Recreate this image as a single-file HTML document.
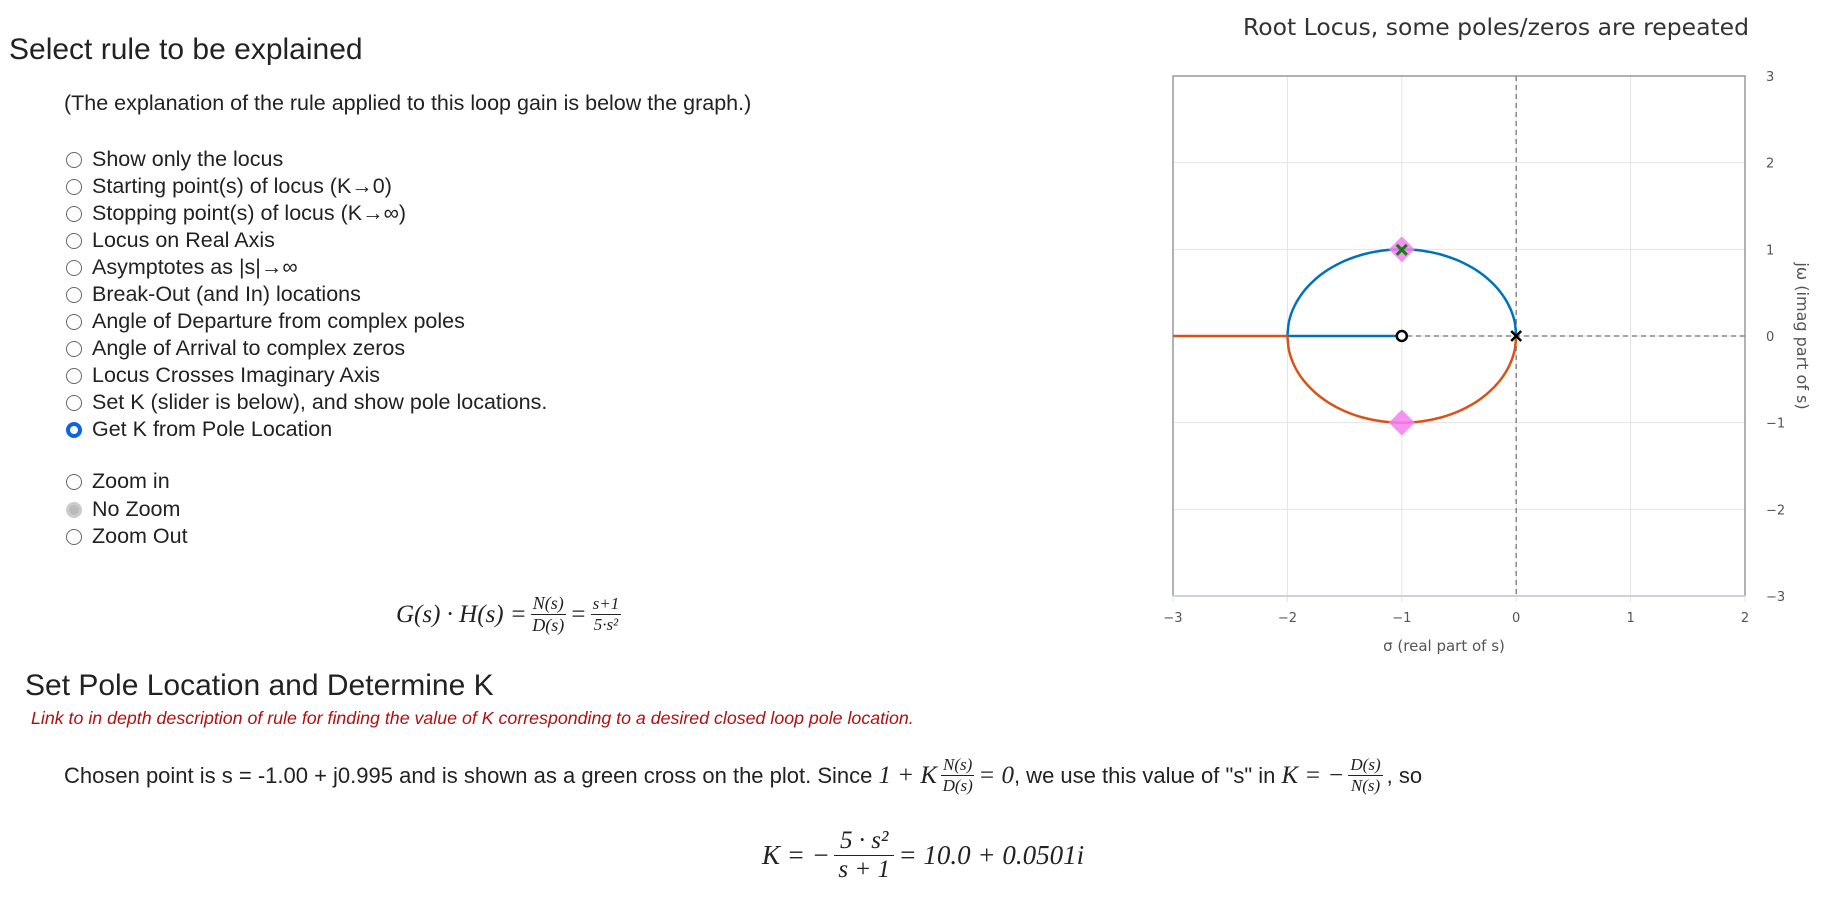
<!DOCTYPE html>
<html><head><meta charset="utf-8"><style>
body{margin:0;width:1825px;height:898px;background:#fff;font-family:"Liberation Sans",Arial,sans-serif;color:#222;position:relative;overflow:hidden}
.abs{position:absolute;white-space:nowrap}
.radio{position:absolute;left:66px;font-size:21.5px;color:#222;display:flex;align-items:center;height:27px}
.rc{width:16px;height:16px;border:1px solid #666;border-radius:50%;margin-right:10px;box-sizing:border-box;background:#fff}
.m{font-family:"Liberation Serif",serif;font-style:italic}
.frac{display:inline-flex;flex-direction:column;align-items:center;vertical-align:middle;margin:0 4px}
.frac>span:first-child{border-bottom:1px solid #222;padding:0 2px}
</style></head><body>
<div class="abs" style="left:9px;top:33px;font-size:30px">Select rule to be explained</div>
<div class="abs" style="left:64px;top:91px;font-size:21.5px">(The explanation of the rule applied to this loop gain is below the graph.)</div>

<div class="radio" style="top:146px"><span class="rc"></span>Show only the locus</div>
<div class="radio" style="top:173px"><span class="rc"></span>Starting point(s) of locus (K→0)</div>
<div class="radio" style="top:200px"><span class="rc"></span>Stopping point(s) of locus (K→∞)</div>
<div class="radio" style="top:227px"><span class="rc"></span>Locus on Real Axis</div>
<div class="radio" style="top:254px"><span class="rc"></span>Asymptotes as |s|→∞</div>
<div class="radio" style="top:281px"><span class="rc"></span>Break-Out (and In) locations</div>
<div class="radio" style="top:308px"><span class="rc"></span>Angle of Departure from complex poles</div>
<div class="radio" style="top:335px"><span class="rc"></span>Angle of Arrival to complex zeros</div>
<div class="radio" style="top:362px"><span class="rc"></span>Locus Crosses Imaginary Axis</div>
<div class="radio" style="top:389px"><span class="rc"></span>Set K (slider is below), and show pole locations.</div>
<div class="radio" style="top:416px"><span class="rc" style="border:4.5px solid #0b63e6"></span>Get K from Pole Location</div>
<div class="radio" style="top:468px"><span class="rc"></span>Zoom in</div>
<div class="radio" style="top:496px"><span class="rc" style="border:3px solid #ccc;background:#bbb"></span>No Zoom</div>
<div class="radio" style="top:523px"><span class="rc"></span>Zoom Out</div>

<div class="abs m" style="left:396px;top:593px;font-size:25px;display:flex;align-items:center">G(s) · H(s) = <span class="frac" style="font-size:18px"><span>N(s)</span><span>D(s)</span></span> = <span class="frac" style="font-size:17px"><span>s+1</span><span>5·s²</span></span></div>

<div class="abs" style="left:25px;top:669px;font-size:30px">Set Pole Location and Determine K</div>
<div class="abs" style="left:31px;top:708px;font-size:17.8px;font-style:italic;color:#b01010">Link to in depth description of rule for finding the value of K corresponding to a desired closed loop pole location.</div>

<div class="abs" style="left:64px;top:755px;font-size:22px;display:flex;align-items:center">Chosen point is s = -1.00 + j0.995 and is shown as a green cross on the plot. Since&nbsp;<span class="m" style="font-size:25px">1 + K</span><span class="frac m" style="font-size:17px"><span>N(s)</span><span>D(s)</span></span><span class="m" style="font-size:25px">= 0</span>, we use this value of "s" in&nbsp;<span class="m" style="font-size:25px">K = −</span><span class="frac m" style="font-size:17px"><span>D(s)</span><span>N(s)</span></span>, so</div>

<div class="abs m" style="left:762px;top:827px;font-size:27px;display:flex;align-items:center">K = −<span class="frac" style="font-size:25px"><span style="padding:0 6px">5 · s²</span><span>s + 1</span></span> = 10.0 + 0.0501i</div>

<svg class="abs" style="left:0;top:0" width="1825" height="898" id="chart"></svg>
<script>
const xTicks=[-3,-2,-1,0,1,2];
const yTicks=[-3,-2,-1,0,1,2,3];
const upperX=[0,-0.015,-0.060,-0.134,-0.234,-0.357,-0.5,-0.658,-0.826,-1,-1.174,-1.342,-1.5,-1.643,-1.766,-1.866,-1.940,-1.985,-2];
const upperY=[0,0.174,0.342,0.5,0.643,0.766,0.866,0.940,0.985,1,0.985,0.940,0.866,0.766,0.643,0.5,0.342,0.174,0];
const upperRealX=[-2,-1];
const lowerX=[0,-0.015,-0.060,-0.134,-0.234,-0.357,-0.5,-0.658,-0.826,-1,-1.174,-1.342,-1.5,-1.643,-1.766,-1.866,-1.940,-1.985,-2];
const lowerY=[0,-0.174,-0.342,-0.5,-0.643,-0.766,-0.866,-0.940,-0.985,-1,-0.985,-0.940,-0.866,-0.766,-0.643,-0.5,-0.342,-0.174,0];
const lowerRealX=[-2,-3];
const poleX=[0],poleY=[0];
const zeroX=[-1],zeroY=[0];
const diamondX=[-1,-1],diamondY=[1,-1];
const chosenX=[-1],chosenY=[0.995];
const X0=1173,X1=1745,Y0=76,Y1=596,xmin=-3,xmax=2,ymin=-3,ymax=3;
const sx=v=>X0+(v-xmin)/(xmax-xmin)*(X1-X0);
const sy=v=>Y1-(v-ymin)/(ymax-ymin)*(Y1-Y0);
const svg=document.getElementById('chart');const NS='http://www.w3.org/2000/svg';
function mk(t,a,txt){const e=document.createElementNS(NS,t);for(const k in a)e.setAttribute(k,a[k]);if(txt!==undefined)e.textContent=txt;svg.appendChild(e);return e;}
let e;
xTicks.forEach(v=>{e=mk('line',{x1:sx(v),x2:sx(v),y1:Y0,y2:Y1+6,stroke:'#e4e4e4','stroke-width':1});


e=mk('text',{x:sx(v),y:622,'text-anchor':'middle','font-size':13,fill:'#555','font-family':'DejaVu Sans, sans-serif'},v<0?'−'+(-v):String(v));

});
yTicks.forEach(v=>{e=mk('line',{x1:X0,x2:X1,y1:sy(v),y2:sy(v),stroke:'#e4e4e4','stroke-width':1});


e=mk('text',{x:1766,y:sy(v)+5,'text-anchor':'start','font-size':13,fill:'#555','font-family':'DejaVu Sans, sans-serif'},v<0?'−'+(-v):String(v));

});
e=mk('path',{d:`M${X0},${Y1}V${Y0}H${X1}V${Y1}`,fill:'none',stroke:'#999','stroke-width':1.5});


e=mk('line',{x1:X0,x2:X1,y1:Y1,y2:Y1,stroke:'#ccd3e0','stroke-width':2});


e=mk('line',{x1:sx(0),x2:sx(0),y1:Y0,y2:Y1,stroke:'#888','stroke-width':1.5,'stroke-dasharray':'5,4'});


e=mk('line',{x1:X0,x2:X1,y1:sy(0),y2:sy(0),stroke:'#888','stroke-width':1.5,'stroke-dasharray':'5,4'});


function smooth(xs,ys){const p=xs.map((x,i)=>[sx(x),sy(ys[i])]);let d='M'+p[0][0].toFixed(1)+','+p[0][1].toFixed(1);
for(let i=0;i<p.length-1;i++){const a=p[Math.max(0,i-1)],b=p[i],c=p[i+1],n=p[Math.min(p.length-1,i+2)];
const c1=[b[0]+(c[0]-a[0])/6,b[1]+(c[1]-a[1])/6],c2=[c[0]-(n[0]-b[0])/6,c[1]-(n[1]-b[1])/6];
d+=`C${c1[0].toFixed(1)},${c1[1].toFixed(1)} ${c2[0].toFixed(1)},${c2[1].toFixed(1)} ${c[0].toFixed(1)},${c[1].toFixed(1)}`;}return d;}
function realPath(xs){return xs.map((x,i)=>(i?'L':'M')+sx(x).toFixed(1)+','+sy(0).toFixed(1)).join('');}
e=mk('path',{d:smooth(upperX,upperY)+realPath(upperRealX).replace('M','L'),fill:'none',stroke:'#0072bd','stroke-width':2.5,'stroke-linejoin':'round'});


e=mk('path',{d:smooth(lowerX,lowerY)+realPath(lowerRealX).replace('M','L'),fill:'none',stroke:'#d95319','stroke-width':2.5,'stroke-linejoin':'round'});


diamondX.forEach((x,i)=>{const cx=sx(x),cy=sy(diamondY[i]);
e=mk('path',{d:`M${cx},${cy-13}L${cx+13},${cy}L${cx},${cy+13}L${cx-13},${cy}Z`,fill:'#f580f0','fill-opacity':0.85});

});
chosenX.forEach((x,i)=>{const cx=sx(x),cy=sy(chosenY[i]);
e=mk('path',{d:`M${cx-5},${cy-5}L${cx+5},${cy+5}M${cx+5},${cy-5}L${cx-5},${cy+5}`,stroke:'#1a7a1a','stroke-width':3});

});
poleX.forEach((x,i)=>{const cx=sx(x),cy=sy(poleY[i]);
e=mk('path',{d:`M${cx-5},${cy-5}L${cx+5},${cy+5}M${cx+5},${cy-5}L${cx-5},${cy+5}`,stroke:'#000','stroke-width':2.5});

});
zeroX.forEach((x,i)=>{e=mk('circle',{cx:sx(x),cy:sy(zeroY[i]),r:5,fill:'#fff',stroke:'#000','stroke-width':2.5});

});
e=mk('text',{x:1496,y:35,'text-anchor':'middle','font-size':23.5,fill:'#333','font-family':'DejaVu Sans, sans-serif'},'Root Locus, some poles/zeros are repeated');


e=mk('text',{x:1444,y:651,'text-anchor':'middle','font-size':15,fill:'#555','font-family':'DejaVu Sans, sans-serif'},'σ (real part of s)');


e=mk('text',{x:1797,y:336,'text-anchor':'middle','font-size':16,fill:'#555','font-family':'DejaVu Sans, sans-serif',transform:'rotate(90 1797 336)'},'jω (imag part of s)');


</script>
</body></html>
